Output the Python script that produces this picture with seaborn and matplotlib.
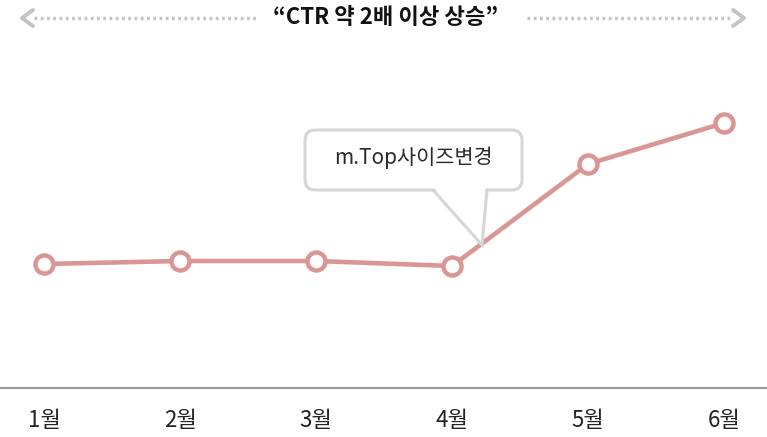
import pandas as pd
import matplotlib.pyplot as plt
import seaborn as sns
from matplotlib.patches import FancyBboxPatch, Polygon
from matplotlib.lines import Line2D

# ---------------------------------------------------------
# 데이터
# ---------------------------------------------------------
months = ['1월', '2월', '3월', '4월', '5월', '6월']
ctr = [1.24, 1.27, 1.27, 1.22, 2.24, 2.65]

header_text = '“CTR 약 2배 이상 상승”'
callout_text = 'm.Top사이즈변경'

line_color = '#d99694'
gray = '#c4c4c4'

sns.set_theme(style='white')
plt.rcParams['font.family'] = ['Noto Sans CJK KR', 'DejaVu Sans']

df = pd.DataFrame({'month': months, 'ctr': ctr})

fig = plt.figure(figsize=(7.67, 4.37), dpi=100)
ax = fig.add_axes([0, 49 / 437, 1, 388 / 437])

sns.lineplot(data=df, x='month', y='ctr', ax=ax, color=line_color, linewidth=3.3,
             marker='o', markersize=13, markerfacecolor='white',
             markeredgecolor=line_color, markeredgewidth=3.2, zorder=3)

ax.set_xlim(-0.324, 5.316)
ax.set_ylim(0, 3.88)
ax.set_xlabel('')
ax.set_ylabel('')
ax.set_yticks([])
for s in ['top', 'right', 'left']:
    ax.spines[s].set_visible(False)
ax.spines['bottom'].set_color('#999999')
ax.spines['bottom'].set_linewidth(1.6)

ax.set_xticks(range(len(months)))
ax.set_xticklabels(months, fontsize=16, color='#222222')
ax.tick_params(axis='x', which='major', length=0, pad=15)
ax.set_xticks([i + 0.5 for i in range(len(months) - 1)], minor=True)
ax.tick_params(axis='x', which='minor', length=6, width=1.3, color='#a8a8a8', direction='out')

# ---------------------------------------------------------
# 말풍선 (m.Top 사이즈 변경)
# ---------------------------------------------------------
bx0, bx1 = (305 - 44) / 136, (522 - 44) / 136
by0, by1 = (388 - 190) / 100, (388 - 130) / 100
box = FancyBboxPatch((bx0, by0), bx1 - bx0, by1 - by0,
                     boxstyle='round,pad=0,rounding_size=0.075', mutation_aspect=1.36,
                     fc='white', ec='#d6d6d6', lw=2.2, zorder=5)
ax.add_patch(box)
tip = ((482 - 44) / 136, (388 - 245) / 100)
tl = ((433 - 44) / 136, by0)
tr = ((487 - 44) / 136, by0)
ax.add_patch(Polygon([(tl[0] + 0.01, by0 + 0.02), tip, (tr[0] - 0.01, by0 + 0.02)],
                     closed=True, fc='white', ec='none', zorder=6))
ax.plot([tl[0], tip[0], tr[0]], [tl[1], tip[1], tr[1]], color='#d6d6d6', lw=2.2,
        zorder=7, solid_joinstyle='miter')
ax.text((bx0 + bx1) / 2, (by0 + by1) / 2 + 0.02, callout_text, ha='center', va='center',
        fontsize=15, color='#2a2a2a', zorder=8)

# ---------------------------------------------------------
# 상단 화살표 + 문구
# ---------------------------------------------------------
yh = 1 - 18 / 437
fig.text(386 / 767, yh, header_text, ha='center', va='center', fontsize=16,
         fontweight='bold', style='italic', color='#111111')
for x0, x1 in [(34, 258), (527, 733)]:
    fig.add_artist(Line2D([x0 / 767, x1 / 767], [yh, yh], transform=fig.transFigure,
                          color=gray, lw=2.5, linestyle=(0, (0.8, 1.0))))
fig.add_artist(Line2D([33 / 767, 22 / 767, 33 / 767], [yh + 8 / 437, yh, yh - 8 / 437],
                      transform=fig.transFigure, color=gray, lw=2.8))
fig.add_artist(Line2D([733 / 767, 744 / 767, 733 / 767], [yh + 8 / 437, yh, yh - 8 / 437],
                      transform=fig.transFigure, color=gray, lw=2.8))

fig.savefig('out.png', dpi=100)
